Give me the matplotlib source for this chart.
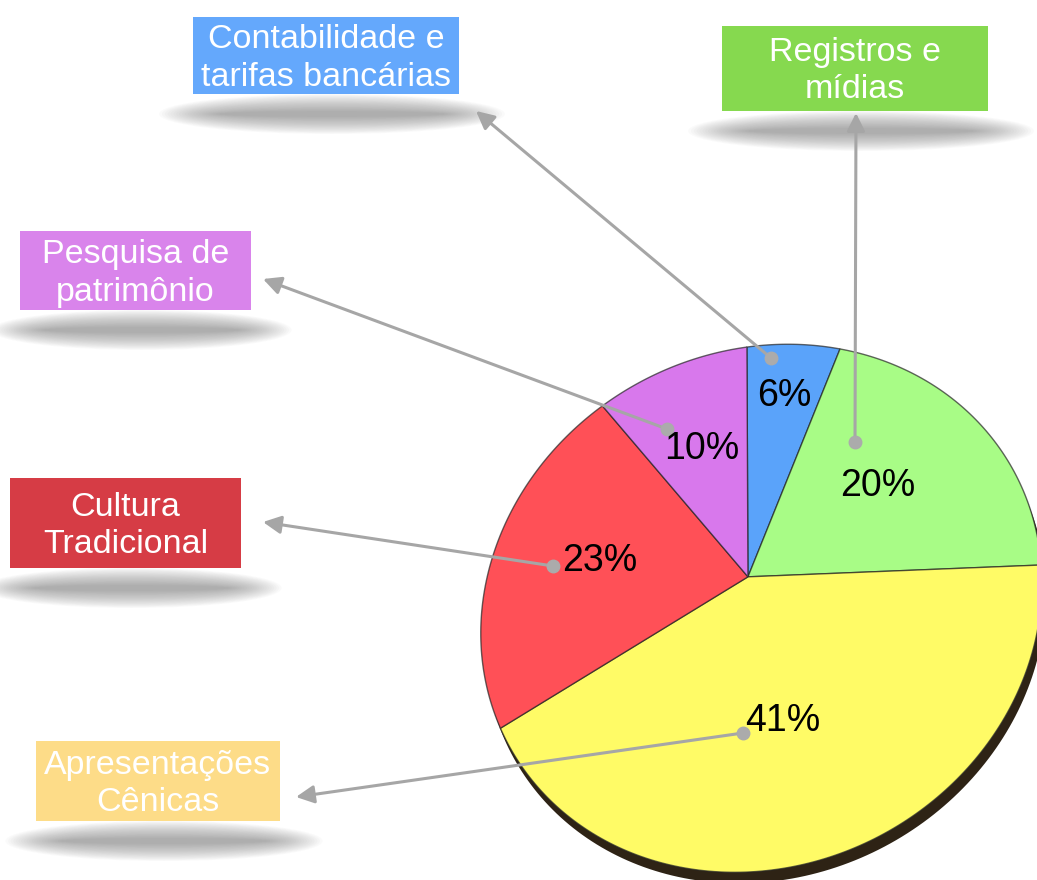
import numpy as np
import matplotlib
matplotlib.use('Agg')
import matplotlib.pyplot as plt
import matplotlib.transforms as mtransforms
from matplotlib.path import Path
from matplotlib.patches import Rectangle, Ellipse, Circle

plt.rcParams['font.family'] = ['Liberation Sans', 'DejaVu Sans']

# ---------------------------------------------------------------------------
# Data (clockwise from 12 o'clock)
# ---------------------------------------------------------------------------
categories = ['Contabilidade e\ntarifas bancárias', 'Registros e\nmídias',
              'Apresentações\nCênicas', 'Cultura\nTradicional',
              'Pesquisa de\npatrimônio']
shares = [6, 20, 41, 23, 10]
slice_colors = ['#5AA3FA', '#A8FC86', '#FFFB66', '#FF5057', '#D878EC']
box_colors = ['#64A8FC', '#86D94F', '#FDDC88', '#D63C45', '#D984EB']

# ---------------------------------------------------------------------------
# Layout (pixel coordinates, y pointing down)
# ---------------------------------------------------------------------------
W, H = 1037, 880
# label boxes: x0, y0, x1, y1
boxes = [(193, 17, 459, 94), (722, 26, 988, 111), (36, 741, 280, 821),
         (10, 478, 241, 568), (20, 231, 251, 310)]
pct_pos = [(784, 396), (878, 486), (783, 721), (600, 561), (702, 449)]
dot_pos = [(771, 358), (855, 442), (743, 733), (553, 566), (667, 429)]
tip_pos = [(476, 111), (856, 113), (296, 797), (263, 522), (263, 279)]

# perspective of the tilted pie: unit-circle points -> screen points
ref_src = np.array([[0, 0], [0, 1],
                    [np.cos(np.radians(68.4)), np.sin(np.radians(68.4))],
                    [np.cos(np.radians(126)), np.sin(np.radians(126))],
                    [np.cos(np.radians(208.8)), np.sin(np.radians(208.8))],
                    [np.cos(np.radians(-3.6)), np.sin(np.radians(-3.6))]])
ref_dst = np.array([[749, 576], [748, 347], [839, 348], [602, 407],
                    [500, 728], [1041, 566]], dtype=float)


def fit_homography(src, dst):
    c = np.array([750.0, 600.0])
    s = 300.0
    d = (dst - c) / s
    rows = []
    for (x, y), (u, v) in zip(src, d):
        rows.append([-x, -y, -1, 0, 0, 0, u * x, u * y, u])
        rows.append([0, 0, 0, -x, -y, -1, v * x, v * y, v])
    _, _, vt = np.linalg.svd(np.array(rows))
    hn = vt[-1].reshape(3, 3)
    T = np.array([[s, 0, c[0]], [0, s, c[1]], [0, 0, 1]])
    return T @ hn


class Perspective(mtransforms.Transform):
    input_dims = 2
    output_dims = 2
    is_separable = False
    has_inverse = False

    def __init__(self, hmat):
        super().__init__()
        self.hmat = hmat

    def transform_non_affine(self, values):
        pts = np.asarray(values, dtype=float)
        p = np.column_stack([pts, np.ones(len(pts))]) @ self.hmat.T
        return p[:, :2] / p[:, 2:3]

    def transform_path_non_affine(self, path):
        pts = []
        for seg, code in path.iter_bezier():
            if seg.degree >= 2:
                t = np.linspace(0, 1, 40)
            else:
                t = np.array([1.0]) if seg.degree == 1 else np.array([0.0])
            pts.append(seg(t))
        pts = np.vstack(pts)
        pts = np.vstack([pts, pts[:1]])
        codes = [Path.MOVETO] + [Path.LINETO] * (len(pts) - 2) + [Path.CLOSEPOLY]
        return Path(self.transform_non_affine(pts), codes)


persp = Perspective(fit_homography(ref_src, ref_dst))

fig = plt.figure(figsize=(W / 100, H / 100), dpi=100)
ax = fig.add_axes([0, 0, 1, 1])


def soft_shadow(cx, cy, w):
    # stacked translucent ellipses give a blurred drop shadow
    n = 22
    for i in range(n):
        f = i / (n - 1)
        ax.add_patch(Ellipse((cx, cy), w * (1.3 - 0.45 * f), 40 - 34 * f,
                             color='#707070', alpha=0.03, lw=0, zorder=1))


# 3D thickness of the pie
rim = Circle((0, 0), 1, facecolor='#2E2315', edgecolor='none', zorder=2)
rim.set_transform(persp + mtransforms.Affine2D().translate(4, 11) + ax.transData)
ax.add_patch(rim)

wedges, _ = ax.pie(shares, colors=slice_colors, startangle=90,
                   counterclock=False, radius=1,
                   wedgeprops=dict(edgecolor=(0.15, 0.15, 0.15, 0.7),
                                   linewidth=1.0))
for w_ in wedges:
    w_.set_transform(persp + ax.transData)
    w_.set_zorder(3)

for i, cat in enumerate(categories):
    x0, y0, x1, y1 = boxes[i]
    soft_shadow((x0 + x1) / 2 + 6, y1 + 20, x1 - x0)
    ax.add_patch(Rectangle((x0, y0), x1 - x0, y1 - y0, facecolor=box_colors[i],
                           edgecolor='none', zorder=4))
    ax.text((x0 + x1) / 2, (y0 + y1) / 2 + 3, cat, ha='center', va='center',
            color='white', fontsize=24.5, linespacing=1.25, zorder=5)

    ax.annotate('', xy=tip_pos[i], xytext=dot_pos[i],
                arrowprops=dict(arrowstyle='-|>,head_length=0.9,head_width=0.45',
                                mutation_scale=12, color='#A6A6A6', lw=2.2,
                                shrinkA=0, shrinkB=0), zorder=6)
    ax.plot(*dot_pos[i], 'o', color='#ABABAB', markersize=9, zorder=7)
    ax.text(*pct_pos[i], f'{shares[i]:.0f}%', ha='center', va='center',
            color='black', fontsize=27, zorder=8)

ax.set_xlim(0, W)
ax.set_ylim(H, 0)
ax.set_aspect('auto')
ax.axis('off')

plt.savefig('out.png', dpi=100)
